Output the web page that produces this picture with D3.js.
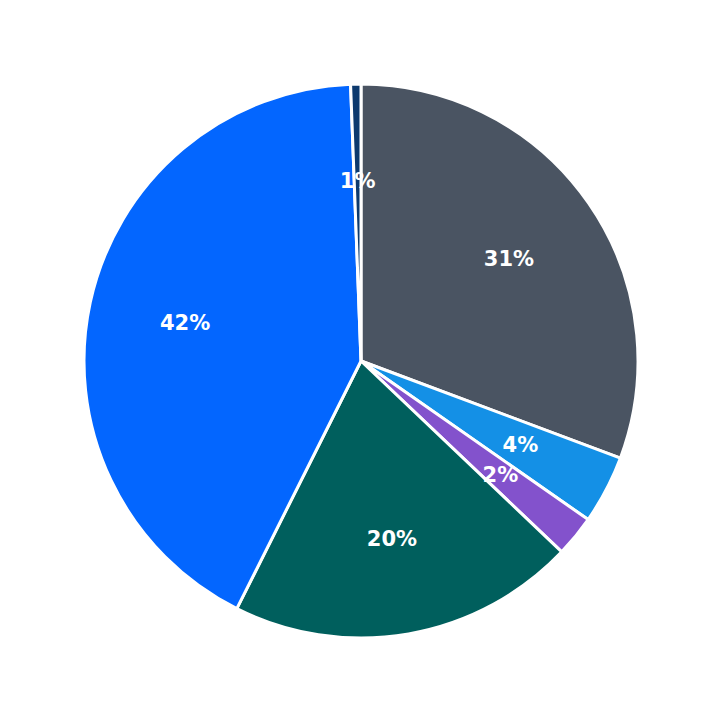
<!DOCTYPE html>
<html><head><meta charset="utf-8">
<script src="https://cdn.jsdelivr.net/npm/d3@7"></script>
<style>body{margin:0;background:#fff}</style></head>
<body><svg id="c" width="723" height="723"></svg>
<script>
const categories = ["A","B","C","D","E","F"];
const values = [30.7, 4.0, 2.4, 20.3, 42.0, 0.6];
const labels = ["31%","4%","2%","20%","42%","1%"];
const colors = ["#4a5462","#1490e6","#8352cc","#005f5d","#0366ff","#0d3a6e"];
const svg = d3.select("#c");
const g = svg.append("g").attr("transform","translate(361,361)");
const r = 277;
const pie = d3.pie().sort(null).value(d=>d)(values);
const arc = d3.arc().innerRadius(0).outerRadius(r);
const la = d3.arc().innerRadius(r*0.65).outerRadius(r*0.65);
g.selectAll("path").data(pie).join("path").attr("d",arc)
 .attr("fill",(d,i)=>colors[i]).attr("stroke","#fff").attr("stroke-width",3).attr("stroke-linejoin","round");
g.selectAll("text").data(pie).join("text")
 .attr("transform",d=>`translate(${la.centroid(d)})`)
 .attr("text-anchor","middle").attr("dy","0.35em")
 .attr("fill","#fff").attr("font-family","DejaVu Sans").attr("font-weight","bold").attr("font-size",21)
 .text((d,i)=>labels[i]);
</script></body></html>
